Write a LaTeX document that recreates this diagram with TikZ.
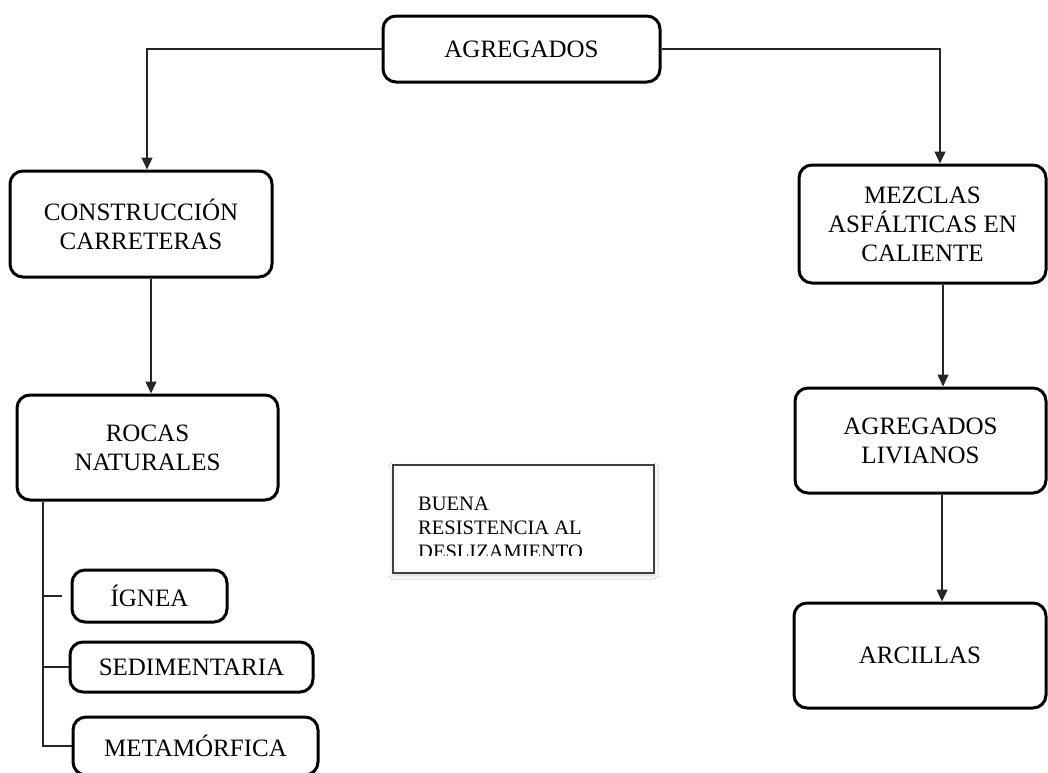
\documentclass[tikz,border=0pt]{standalone}
\usepackage{fontspec}
\setmainfont{Liberation Serif}
\usetikzlibrary{arrows.meta,shadows.blur}

\begin{document}
\begin{tikzpicture}[x=1pt,y=-1pt,
  box/.style={draw=black, line width=3pt, rounded corners=13pt, align=center,
    inner sep=0pt, font=\fontsize{25}{29}\selectfont},
  notebox/.style={draw=black!75, line width=1.5pt, fill=white,
    blur shadow={shadow xshift=0pt, shadow yshift=-2pt, shadow blur radius=4pt, shadow opacity=20}},
  link/.style={draw=black!85, line width=1.3pt},
  arrowlink/.style={link, -{Triangle[width=11pt,length=12pt]}}
]
\clip (0,0) rectangle (1048,772);
\fill[white] (0,0) rectangle (1048,772);

% top node
\node[box, minimum width=277pt, minimum height=66pt] (agr) at (521.5,49) {AGREGADOS};

% left branch
\node[box, minimum width=262pt, minimum height=106pt] (cons) at (141,224) {CONSTRUCCIÓN\\CARRETERAS};
\node[box, minimum width=261pt, minimum height=105pt] (rocas) at (147.5,447.5) {ROCAS\\NATURALES};
\node[box, minimum width=155pt, minimum height=52pt] (ignea) at (149.5,596) {ÍGNEA};
\node[box, minimum width=243pt, minimum height=50pt] (sedi) at (191.5,667) {SEDIMENTARIA};
\node[box, minimum width=245pt, minimum height=58pt] (meta) at (195.5,746) {METAMÓRFICA};

% right branch
\node[box, minimum width=247pt, minimum height=118pt] (mezc) at (922.5,224) {MEZCLAS\\ASFÁLTICAS EN\\CALIENTE};
\node[box, minimum width=251pt, minimum height=105pt] (liv) at (920.5,440.5) {AGREGADOS\\LIVIANOS};
\node[box, minimum width=252pt, minimum height=105pt] (arc) at (920,655.5) {ARCILLAS};

% note box; its last line is cut off by the frame's text area
\node[notebox, minimum width=261pt, minimum height=108pt] (buena) at (523.5,519) {};
\begin{scope}
  \clip (393,465) rectangle (654,555);
  \node[anchor=north west, inner sep=0pt, align=left,
    font=\fontsize{20.5}{24}\selectfont] (buenatxt) at (418,497)
    {BUENA\\RESISTENCIA AL\\DESLIZAMIENTO};
\end{scope}

% connectors
\draw[arrowlink] (agr.west) -| ([xshift=6pt]cons.north);
\draw[arrowlink] (agr.east) -| ([xshift=17.5pt]mezc.north);
\draw[arrowlink] ([xshift=10pt]cons.south) -- ([xshift=3.5pt]rocas.north);
\draw[arrowlink] ([xshift=20.5pt]mezc.south) -- ([xshift=22.5pt]liv.north);
\draw[arrowlink] ([xshift=21.5pt]liv.south) -- ([xshift=22pt]arc.north);

% classification tree
\coordinate (trunk) at ([xshift=-104.5pt]rocas.south);
\draw[link] (trunk) |- ([xshift=-9pt]ignea.west);
\draw[link] (trunk) |- (sedi.west);
\draw[link] (trunk) |- (meta.west);
\end{tikzpicture}
\end{document}
